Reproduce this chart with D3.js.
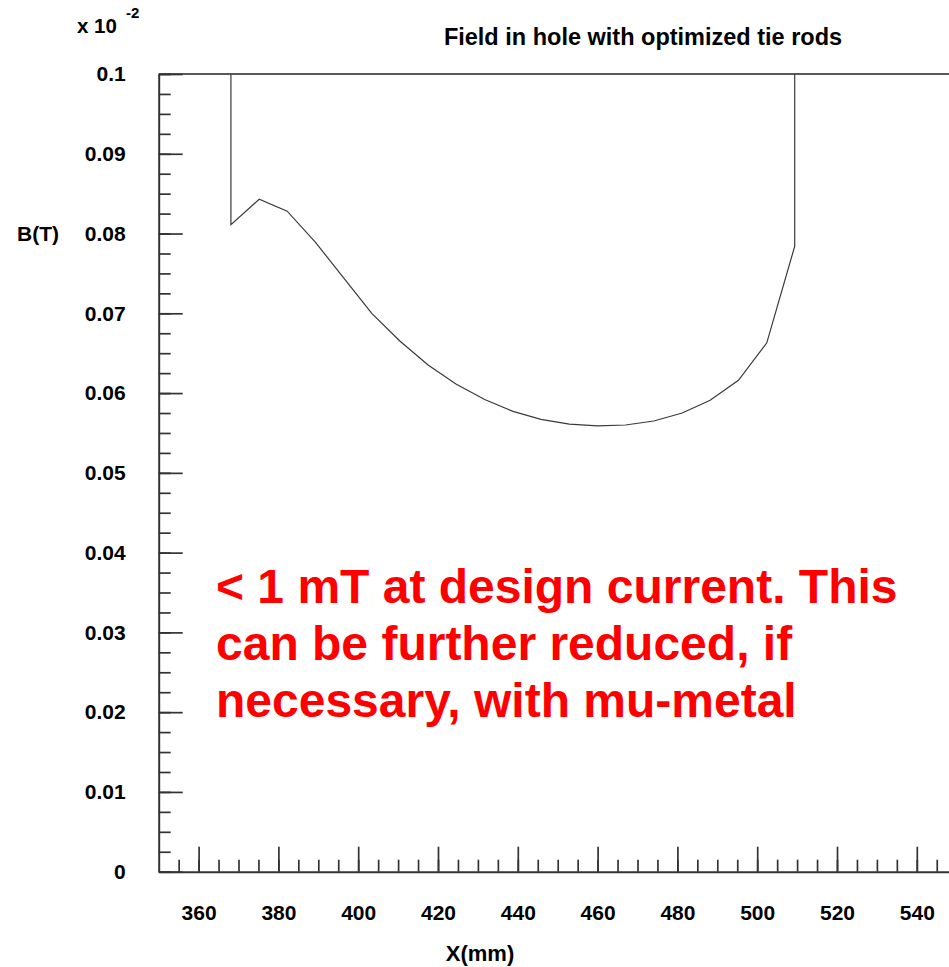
<!DOCTYPE html>
<html>
<head>
<meta charset="utf-8">
<script src="https://cdn.jsdelivr.net/npm/d3@7"></script>
<style>
  html, body { margin: 0; padding: 0; background: #fff; }
  svg { display: block; }
  text { font-family: "Liberation Sans", Arial, sans-serif; font-weight: bold; fill: #000; }
</style>
</head>
<body>
<svg id="chart" width="949" height="967"></svg>
<script>
// Field along the hole, B in units of 10^-2 T, vs. position X in mm
const positionsMm = [368.1, 368.1, 375.2, 382.2, 389.3, 396.4, 403.4, 410.5, 417.6, 424.6, 431.7,
                     438.8, 445.8, 452.9, 460.0, 467.0, 474.1, 481.2, 488.2, 495.3, 502.4, 509.4, 509.4];
const fieldValues = [0.125, 0.0811, 0.0843, 0.0828, 0.0789, 0.0744, 0.0700, 0.0665, 0.0635, 0.0611, 0.0592,
                     0.0577, 0.0567, 0.0561, 0.0559, 0.0560, 0.0565, 0.0575, 0.0591, 0.0616, 0.0663, 0.0784, 0.125];

// Axis ticks
const xMajorTicks = [360, 380, 400, 420, 440, 460, 480, 500, 520, 540];
const xMinorTicks = d3.range(355, 550, 5);
const yMajorTicks = [0, 0.01, 0.02, 0.03, 0.04, 0.05, 0.06, 0.07, 0.08, 0.09, 0.1];
const yTickLabels = ["0", "0.01", "0.02", "0.03", "0.04", "0.05", "0.06", "0.07", "0.08", "0.09", "0.1"];
const yMinorTicks = d3.range(0, 0.1001, 0.0025);

const titleText = "Field in hole with optimized tie rods";
const xTitle = "X(mm)";
const yTitle = "B(T)";
const noteLines = ["< 1 mT at design current. This", "can be further reduced, if", "necessary, with mu-metal"];

const svg = d3.select("#chart");
const plotLeft = 158.7, plotTop = 74, plotW = 798, plotH = 797.7;

const x = d3.scaleLinear().domain([350, 550]).range([plotLeft, plotLeft + plotW]);
const y = d3.scaleLinear().domain([0, 0.1]).range([plotTop + plotH, plotTop]);

const axisColor = "#333";

// frame top edge
svg.append("line")
  .attr("x1", plotLeft).attr("x2", plotLeft + plotW)
  .attr("y1", plotTop).attr("y2", plotTop)
  .attr("stroke", "#222").attr("stroke-width", 1.6);

// minor ticks (inward)
const xMinor = svg.append("g").attr("transform", `translate(0,${plotTop + plotH})`)
  .call(d3.axisBottom(x).tickValues(xMinorTicks).tickSize(-12).tickFormat(""));
xMinor.select(".domain").remove();
const yMinor = svg.append("g").attr("transform", `translate(${plotLeft},0)`)
  .call(d3.axisLeft(y).tickValues(yMinorTicks).tickSize(-12).tickFormat(""));
yMinor.select(".domain").remove();

// major ticks with labels
const xAxis = svg.append("g").attr("transform", `translate(0,${plotTop + plotH})`)
  .call(d3.axisBottom(x).tickValues(xMajorTicks).tickSize(-25).tickSizeOuter(0).tickPadding(33));
const yAxis = svg.append("g").attr("transform", `translate(${plotLeft},0)`)
  .call(d3.axisLeft(y).tickValues(yMajorTicks).tickSize(-24).tickSizeOuter(0).tickPadding(33)
    .tickFormat((d, i) => yTickLabels[i]));

[xAxis, yAxis, xMinor, yMinor].forEach(g => {
  g.selectAll("line").attr("stroke", axisColor).attr("stroke-width", 1.7);
  g.selectAll("path.domain").attr("stroke", axisColor).attr("stroke-width", 2);
  g.selectAll("text").attr("font-size", 21).attr("font-family", null).attr("fill", "#000");
});

// clip curve to the plot frame
svg.append("clipPath").attr("id", "plot-clip")
  .append("rect").attr("x", plotLeft).attr("y", plotTop).attr("width", plotW).attr("height", plotH);

const line = d3.line()
  .x((d, i) => x(positionsMm[i]))
  .y(d => y(d));

svg.append("path")
  .datum(fieldValues)
  .attr("clip-path", "url(#plot-clip)")
  .attr("fill", "none")
  .attr("stroke", "#3a3a3a")
  .attr("stroke-width", 1.2)
  .attr("d", line);

// titles
svg.append("text").attr("x", 643).attr("y", 44.5).attr("text-anchor", "middle")
  .attr("font-size", 23.5).text(titleText);

svg.append("text").attr("x", 480).attr("y", 961).attr("text-anchor", "middle")
  .attr("font-size", 22).text(xTitle);

svg.append("text").attr("x", 17).attr("y", y(0.08) + 7.5)
  .attr("font-size", 21).text(yTitle);

// exponent multiplier
const expo = svg.append("text").attr("x", 77).attr("y", 33).attr("font-size", 20.5);
expo.append("tspan").text("x 10");
expo.append("tspan").attr("dx", 9).attr("dy", -15).attr("font-size", 15).text("-2");

// annotation
svg.append("text")
  .attr("font-size", 48).style("fill", "#ff0000")
  .selectAll("tspan").data(noteLines).join("tspan")
  .attr("x", 216).attr("y", (d, i) => 603 + i * 57)
  .text(d => d);
</script>
</body>
</html>
